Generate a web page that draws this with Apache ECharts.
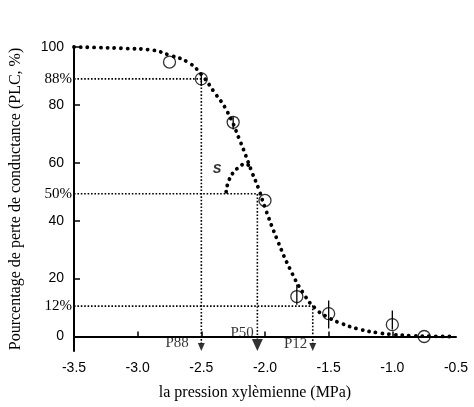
<!DOCTYPE html>
<html>
<head>
<meta charset="utf-8">
<script src="https://cdn.jsdelivr.net/npm/echarts@6/dist/echarts.min.js"></script>
<style>
html,body{margin:0;padding:0;background:#fff}
#main{width:474px;height:407px}
</style>
</head>
<body>
<div id="main"></div>
<script>
// courbe de vulnérabilité : valeurs
var curveX = [-3.5, -3.3, -3.1, -2.9, -2.75, -2.6, -2.5, -2.4, -2.3, -2.2, -2.1, -2.05, -2.0, -1.9, -1.8, -1.7, -1.6, -1.5, -1.4, -1.25, -1.1, -1.0, -0.85, -0.7, -0.53];
var curveY = [100, 99.8, 99.5, 99, 97.2, 94.6, 90.5, 84.5, 78, 68, 56.5, 51, 44.5, 33, 23, 15, 9.5, 6.5, 4.5, 2.4, 1.2, 0.7, 0.3, 0.1, 0];

// points mesurés (cercles) et barres d'erreur
var obsX = [-2.75, -2.5, -2.25, -2.0, -1.75, -1.5, -1.0, -0.75];
var obsY = [94.8, 89, 74, 47, 13.8, 7.9, 4.1, 0];
var errLow = [null, 86.5, 71.5, null, 11, 2.8, 2.4, null];
var errHigh = [null, 91, 76, null, 18, 12.4, 9, null];

// lignes de repère P88 / P50 / P12
var refNames = ['P88', 'P50', 'P12'];
var refX = [-2.5, -2.06, -1.625];
var refY = [89, 49.3, 10.5];
var refText = ['88%', '50%', '12%'];

// petit arc "s" (pente)
var arcX = [-2.305, -2.29, -2.25, -2.2, -2.156, -2.125];
var arcY = [50, 53.1, 56.6, 58.6, 59.7, 59];

var xTicks = [-3.0, -2.5, -2.0, -1.5, -1.0];
var yTicks = [0, 20, 40, 60, 80, 100];

var sans = 'Liberation Sans';
var serif = 'Liberation Serif';

function zip(a, b) {
    var out = [];
    a.forEach(function (v, i) { out.push([v, b[i]]); });
    return out;
}

var myChart = echarts.init(document.getElementById('main'));

var series = [];

// courbe en pointillés
series.push({
    type: 'line',
    data: zip(curveX, curveY),
    smooth: true,
    symbol: 'none',
    lineStyle: { color: '#000', width: 3.8, type: [0.1, 6.6], cap: 'round' },
    z: 3
});
series.push({
    type: 'line',
    data: zip(arcX, arcY),
    smooth: true,
    symbol: 'none',
    lineStyle: { color: '#000', width: 3.8, type: [0.1, 6.4], cap: 'round' },
    z: 3
});

// repères
refNames.forEach(function (name, i) {
    var bottom = name === 'P50' ? -1 : -2.4;
    series.push({
        type: 'line',
        data: [[-3.5, refY[i]], [refX[i], refY[i]], [refX[i], bottom]],
        symbol: 'none',
        lineStyle: { color: '#000', width: 1.6, type: [1.6, 1.8] },
        z: 2
    });
});

// flèches
var arrowData = refNames.map(function (name, i) {
    var big = name === 'P50';
    var size = big ? [11, 12] : [7, 8];
    var off = name === 'P50' ? [4, -12] : (name === 'P88' ? [0, -4] : [0, -3]);
    return {
        value: [refX[i], -5],
        symbolSize: size,
        symbolOffset: [0, -size[1] / 2],
        label: {
            show: true,
            position: 'left',
            distance: name === 'P88' ? 9 : 2,
            offset: off,
            formatter: name,
            fontFamily: serif,
            fontSize: 15,
            color: '#000'
        }
    };
});
series.push({
    type: 'scatter',
    data: arrowData,
    symbol: 'triangle',
    symbolRotate: 180,
    itemStyle: { color: '#000' },
    clip: false,
    z: 5
});

// cercles
series.push({
    type: 'scatter',
    data: zip(obsX, obsY),
    symbol: 'circle',
    symbolSize: 12,
    itemStyle: { color: 'rgba(0,0,0,0)', borderColor: '#000', borderWidth: 1.3 },
    clip: false,
    z: 4
});

// barres d'erreur
var errData = [];
obsX.forEach(function (x, i) {
    if (errLow[i] != null) errData.push([x, errLow[i], errHigh[i]]);
});
series.push({
    type: 'custom',
    data: errData,
    renderItem: function (params, api) {
        var p1 = api.coord([api.value(0), api.value(1)]);
        var p2 = api.coord([api.value(0), api.value(2)]);
        return {
            type: 'line',
            shape: { x1: p1[0], y1: p1[1], x2: p2[0], y2: p2[1] },
            style: { stroke: '#000', lineWidth: 1.3 }
        };
    },
    z: 4
});

// lettre s
series.push({
    type: 'scatter',
    data: [[-2.375, 58]],
    symbolSize: 0,
    label: {
        show: true,
        position: 'inside',
        formatter: 's',
        fontFamily: sans,
        fontStyle: 'italic',
        fontWeight: 'bold',
        fontSize: 16,
        color: '#000'
    },
    z: 5
});

var yLabelVals = yTicks.concat(refY);

option = {
    animation: false,
    backgroundColor: '#fff',
    grid: { left: 73, right: 18, top: 47, bottom: 56 },
    xAxis: {
        type: 'value',
        min: -3.5,
        max: -0.5,
        interval: 0.5,
        name: 'la pression xylèmienne (MPa)',
        nameLocation: 'middle',
        nameGap: 34,
        nameTextStyle: { fontFamily: serif, fontSize: 16, color: '#000', padding: [0, 20, 0, 0] },
        axisLine: { lineStyle: { color: '#000', width: 2 } },
        axisTick: { inside: true, length: 5, customValues: xTicks, lineStyle: { color: '#000', width: 1.5 } },
        axisLabel: {
            margin: 10,
            fontFamily: sans,
            fontSize: 14,
            color: '#000',
            formatter: function (v) { return v.toFixed(1); }
        },
        splitLine: { show: false }
    },
    yAxis: {
        type: 'value',
        min: -5,
        max: 100,
        name: 'Pourcentage de perte de conductance (PLC, %)',
        nameLocation: 'middle',
        nameGap: 50,
        nameRotate: 90,
        nameTextStyle: { fontFamily: serif, fontSize: 16, color: '#000' },
        axisLine: { lineStyle: { color: '#000', width: 2 } },
        axisTick: { inside: true, length: 6, customValues: yTicks, lineStyle: { color: '#000', width: 1.5 } },
        axisLabel: {
            margin: 2,
            customValues: yLabelVals,
            formatter: function (v) {
                var k = refY.indexOf(v);
                if (k >= 0) return '{p|' + refText[k] + '}';
                return '{n|' + v + '}';
            },
            rich: {
                n: { fontFamily: sans, fontSize: 14, color: '#000', padding: [0, 8, 0, 0] },
                p: { fontFamily: serif, fontSize: 15, color: '#000' }
            }
        },
        splitLine: { show: false }
    },
    series: series
};

myChart.setOption(option);
</script>
</body>
</html>
